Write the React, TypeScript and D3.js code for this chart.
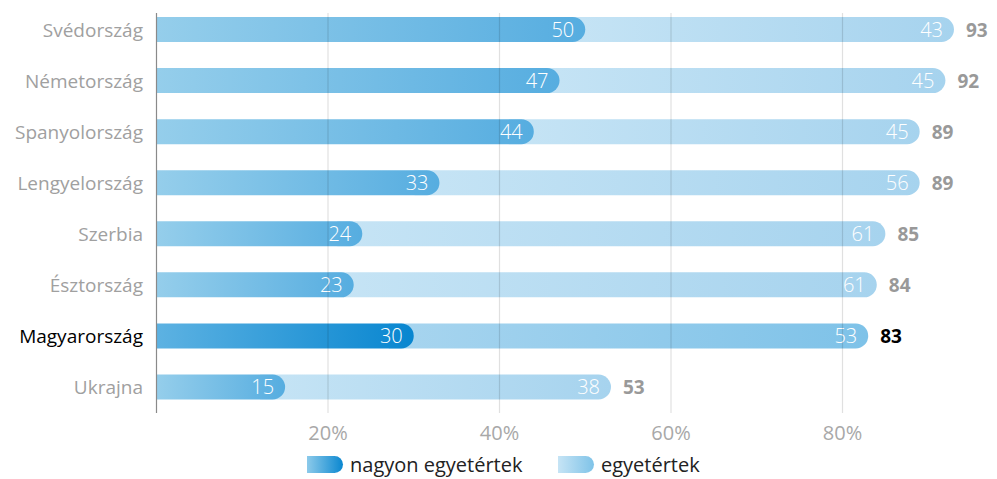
import { useEffect, useRef } from "react";
import * as d3 from "d3";

const countries = ["Svédország", "Németország", "Spanyolország", "Lengyelország", "Szerbia", "Észtország", "Magyarország", "Ukrajna"];
const stronglyAgree = [50, 47, 44, 33, 24, 23, 30, 15];
const agree = [43, 45, 45, 56, 61, 61, 53, 38];
const totals = [93, 92, 89, 89, 85, 84, 83, 53];
const xTicks = [20, 40, 60, 80];
const legendLabels = ["nagyon egyetértek", "egyetértek"];
const highlight = "Magyarország";

const FONT = "'Open Sans', 'Noto Sans', sans-serif";

// rect with a round right end
function roundedRight(x0: number, x1: number, y: number, h: number) {
  const r = h / 2;
  return `M${x0},${y}H${x1 - r}A${r},${r} 0 0 1 ${x1 - r},${y + h}H${x0}Z`;
}

export default function App() {
  const ref = useRef<SVGSVGElement>(null);

  useEffect(() => {
    const svg = d3.select(ref.current);
    svg.selectAll("*").remove();

    const x = d3.scaleLinear().domain([0, 80]).range([156.5, 842.5]);
    const y = d3.scalePoint().domain(countries).range([29.5, 387]);
    const barH = 25;
    const top = 13;
    const bottom = 413;

    const defs = svg.append("defs");
    const grad = (id: string, c0: string, c1: string) => {
      const g = defs.append("linearGradient").attr("id", id).attr("x1", 0).attr("x2", 1).attr("y1", 0).attr("y2", 0);
      g.append("stop").attr("offset", "0%").attr("stop-color", c0);
      g.append("stop").attr("offset", "100%").attr("stop-color", c1);
    };
    grad("darkN", "#95ceeb", "#56ade0");
    grad("lightN", "#c6e4f5", "#a6d3ee");
    grad("darkH", "#5db2e2", "#0886d0");
    grad("lightH", "#a8d5ef", "#7ec2e8");
    grad("legDark", "#8ccaea", "#0a87d0");
    grad("legLight", "#c6e4f5", "#7fc3e8");

    const rows = countries.map((c, i) => ({ c, v1: stronglyAgree[i], v2: agree[i], total: totals[i] }));

    const g = svg.append("g");
    rows.forEach(d => {
      const cy = y(d.c)!;
      const hl = d.c === highlight;
      g.append("path")
        .attr("d", roundedRight(x(d.v1) - barH, x(d.v1 + d.v2), cy - barH / 2, barH))
        .attr("fill", `url(#${hl ? "lightH" : "lightN"})`);
      g.append("path")
        .attr("d", roundedRight(x(0), x(d.v1), cy - barH / 2, barH))
        .attr("fill", `url(#${hl ? "darkH" : "darkN"})`);

      g.append("text")
        .attr("x", x(d.v1) - 11).attr("y", cy + 7)
        .attr("text-anchor", "end").attr("fill", "#fff")
        .attr("font-size", 20).attr("font-weight", 300).attr("font-family", FONT)
        .text(d.v1);
      g.append("text")
        .attr("x", x(d.v1 + d.v2) - 11).attr("y", cy + 7)
        .attr("text-anchor", "end").attr("fill", "#fff")
        .attr("font-size", 20).attr("font-weight", 300).attr("font-family", FONT)
        .text(d.v2);
      g.append("text")
        .attr("x", x(d.v1 + d.v2) + 12).attr("y", cy + 7)
        .attr("fill", hl ? "#000" : "#999")
        .attr("font-size", 19).attr("font-weight", 700).attr("font-family", FONT)
        .text(d.total);
      g.append("text")
        .attr("x", 143).attr("y", cy + 7)
        .attr("text-anchor", "end").attr("fill", hl ? "#000" : "#a0a0a0")
        .attr("font-size", 19).attr("font-family", FONT)
        .text(d.c);
    });

    // gridlines on top of bars
    svg.selectAll(".grid")
      .data(xTicks)
      .join("line")
      .attr("class", "grid")
      .attr("x1", d => x(d)).attr("x2", d => x(d))
      .attr("y1", top).attr("y2", bottom)
      .attr("stroke", "#000").attr("stroke-opacity", 0.12).attr("stroke-width", 1.2);

    svg.append("line")
      .attr("x1", x(0)).attr("x2", x(0)).attr("y1", top).attr("y2", bottom)
      .attr("stroke", "#8a8a8a").attr("stroke-width", 1.2);

    svg.selectAll(".tick-label")
      .data(xTicks)
      .join("text")
      .attr("class", "tick-label")
      .attr("x", d => x(d)).attr("y", 440)
      .attr("text-anchor", "middle").attr("fill", "#a8a8a8")
      .attr("font-size", 20).attr("font-family", FONT)
      .text(d => `${d}%`);

    // legend
    const legend = [
      { label: legendLabels[0], fill: "url(#legDark)", x0: 307 },
      { label: legendLabels[1], fill: "url(#legLight)", x0: 558 },
    ];
    legend.forEach(l => {
      svg.append("path").attr("d", roundedRight(l.x0, l.x0 + 36, 456, 17)).attr("fill", l.fill);
      svg.append("text")
        .attr("x", l.x0 + 43).attr("y", 472)
        .attr("fill", "#222").attr("font-size", 20).attr("font-family", FONT)
        .text(l.label);
    });
  }, []);

  return (
    <div>
      <svg ref={ref} width={997} height={479} style={{ display: "block", position: "absolute", left: 0, top: 0 }}></svg>
    </div>
  );
}
